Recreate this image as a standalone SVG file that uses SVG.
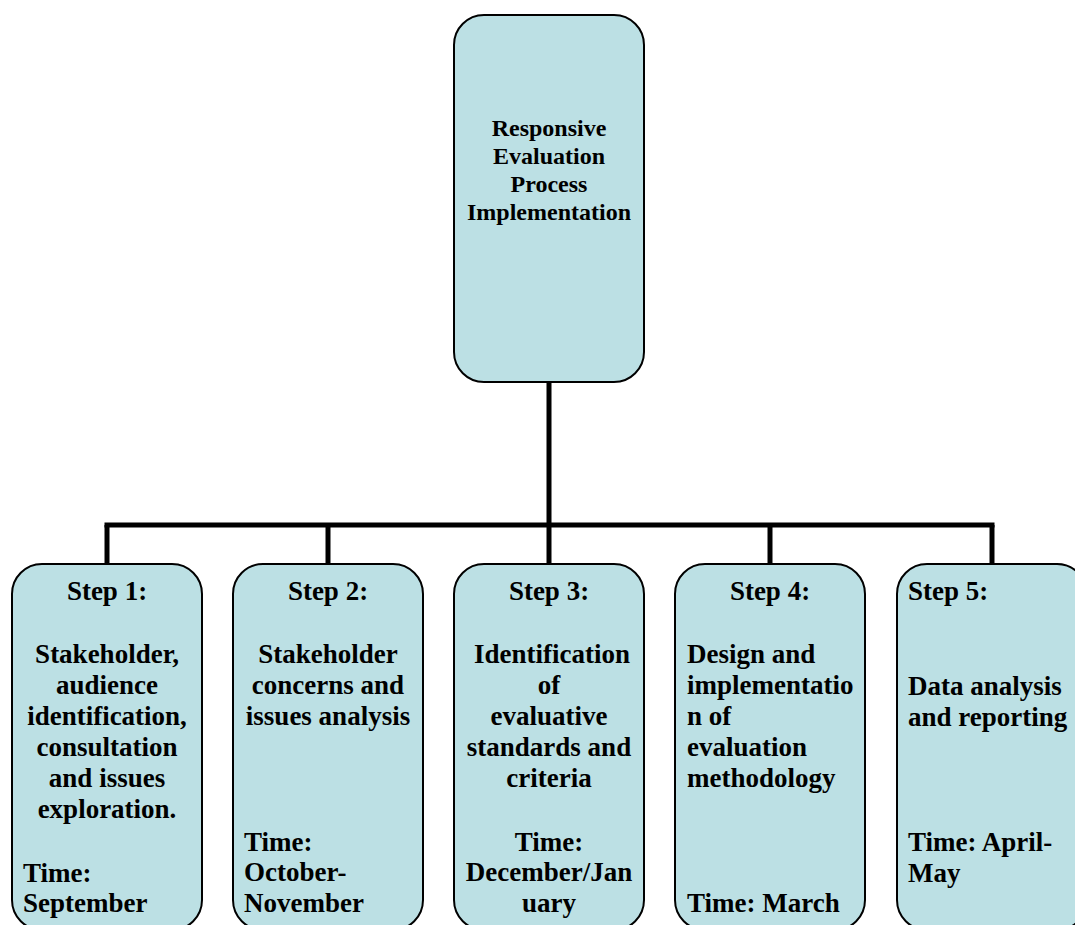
<svg xmlns="http://www.w3.org/2000/svg" width="1075" height="925" viewBox="0 0 1075 925">
<style>
.box{fill:#BCE0E4;stroke:#000;stroke-width:2}
.conn{fill:none;stroke:#000;stroke-width:5}
text{font-family:"Liberation Serif","Times New Roman",serif;font-weight:bold;fill:#000}
.t{font-size:24px;text-anchor:middle}
.s{font-size:27px}
.c{text-anchor:middle}
</style>
<rect width="1075" height="925" fill="#fff"/>
<g id="connectors">
<line class="conn" x1="549" y1="382" x2="549" y2="525"/>
<line class="conn" x1="104.5" y1="525" x2="994.5" y2="525"/>
<line class="conn" x1="107" y1="525" x2="107" y2="564"/>
<line class="conn" x1="328" y1="525" x2="328" y2="564"/>
<line class="conn" x1="549" y1="525" x2="549" y2="564"/>
<line class="conn" x1="770" y1="525" x2="770" y2="564"/>
<line class="conn" x1="992" y1="525" x2="992" y2="564"/>
</g>
<g id="root">
<rect class="box" x="454" y="15" width="190" height="367" rx="30"/>
<text class="t" x="549" y="136">Responsive</text>
<text class="t" x="549" y="164">Evaluation</text>
<text class="t" x="549" y="192">Process</text>
<text class="t" x="549" y="220">Implementation</text>
</g>
<g id="step1">
<rect class="box" x="12" y="564" width="190" height="366" rx="30"/>
<text class="s c" x="107" y="600">Step 1:</text>
<text class="s c" x="107" y="663">Stakeholder,</text>
<text class="s c" x="107" y="694">audience</text>
<text class="s c" x="107" y="725">identification,</text>
<text class="s c" x="107" y="756">consultation</text>
<text class="s c" x="107" y="787">and issues</text>
<text class="s c" x="107" y="818">exploration.</text>
<text class="s" x="23" y="882">Time:</text>
<text class="s" x="23" y="912">September</text>
</g>
<g id="step2">
<rect class="box" x="233" y="564" width="190" height="366" rx="30"/>
<text class="s c" x="328" y="600">Step 2:</text>
<text class="s c" x="328" y="663">Stakeholder</text>
<text class="s c" x="328" y="694">concerns and</text>
<text class="s c" x="328" y="725">issues analysis</text>
<text class="s" x="244" y="851">Time:</text>
<text class="s" x="244" y="881">October-</text>
<text class="s" x="244" y="912">November</text>
</g>
<g id="step3">
<rect class="box" x="454" y="564" width="190" height="366" rx="30"/>
<text class="s c" x="549" y="600">Step 3:</text>
<text class="s c" x="552" y="663">Identification</text>
<text class="s c" x="549" y="694">of</text>
<text class="s c" x="549" y="725">evaluative</text>
<text class="s c" x="549" y="756">standards and</text>
<text class="s c" x="549" y="787">criteria</text>
<text class="s c" x="549" y="851">Time:</text>
<text class="s c" x="549" y="881">December/Jan</text>
<text class="s c" x="549" y="912">uary</text>
</g>
<g id="step4">
<rect class="box" x="675" y="564" width="190" height="366" rx="30"/>
<text class="s c" x="770" y="600">Step 4:</text>
<text class="s" x="687" y="663">Design and</text>
<text class="s" x="687" y="694">implementatio</text>
<text class="s" x="687" y="725">n of</text>
<text class="s" x="687" y="756">evaluation</text>
<text class="s" x="687" y="787">methodology</text>
<text class="s" x="687" y="912">Time: March</text>
</g>
<g id="step5">
<rect class="box" x="897" y="564" width="190" height="366" rx="30"/>
<text class="s" x="908" y="600">Step 5:</text>
<text class="s" x="908" y="695">Data analysis</text>
<text class="s" x="908" y="726">and reporting</text>
<text class="s" x="908" y="851">Time: April-</text>
<text class="s" x="908" y="882">May</text>
</g>
</svg>
